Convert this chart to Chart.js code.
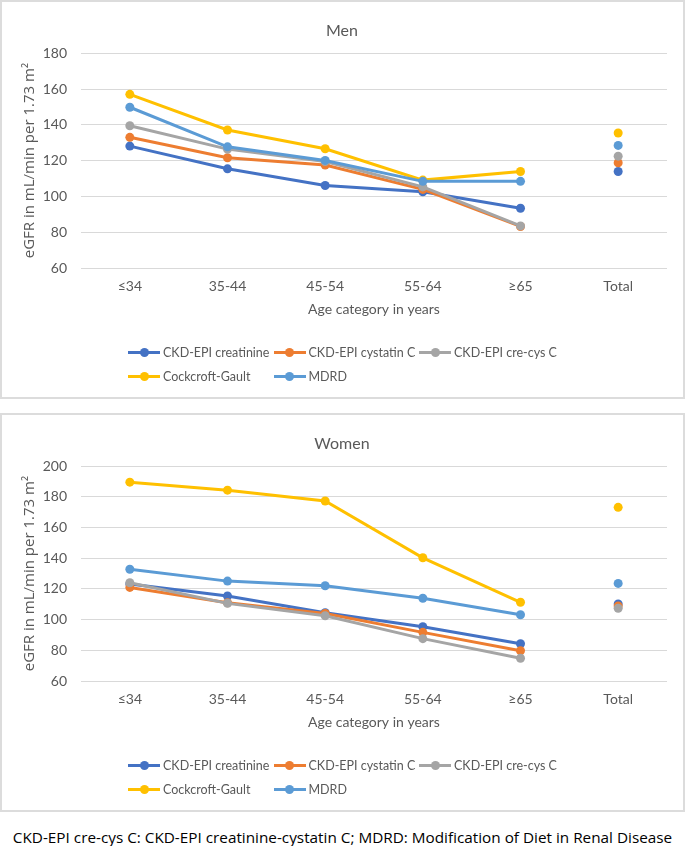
<!DOCTYPE html>
<html lang="en">

<head>
    <meta charset="UTF-8">
    <title>eGFR by age category</title>
    <script src="https://cdn.jsdelivr.net/npm/chart.js"></script>
    <style>
        body {
            margin: 0;
            background: #fff;
            font-family: Lato, sans-serif;
        }

        .panel {
            position: absolute;
            left: 0;
            width: 685px;
            height: 399px;
        }

        .panel canvas {
            position: absolute;
            left: 0;
            top: 0;
        }

        .frame {
            position: absolute;
            left: 0;
            top: 0;
            right: 0;
            bottom: 0;
            border: 2px solid #dcdcdc;
            pointer-events: none;
        }

        .legend {
            position: absolute;
            left: 128px;
            top: 340px;
            display: grid;
            grid-template-columns: 145.5px 145.5px 145.5px;
            grid-auto-rows: 24px;
            font-size: 12.5px;
            color: #595959;
        }

        .legend-item {
            display: flex;
            align-items: center;
            white-space: nowrap;
        }

        .swatch {
            position: relative;
            width: 32px;
            height: 10px;
            margin-right: 3px;
        }

        .swatch .ln {
            position: absolute;
            left: 0;
            right: 0;
            top: 3.5px;
            height: 3px;
        }

        .swatch .dot {
            position: absolute;
            left: 11.5px;
            top: 0.5px;
            width: 9px;
            height: 9px;
            border-radius: 50%;
        }

        #caption {
            position: absolute;
            left: 0;
            width: 685px;
            top: 827px;
            text-align: center;
            font-family: "Open Sans", sans-serif;
            font-size: 15.3px;
            color: #000;
        }
    </style>
</head>

<body>
    <div class="panel" style="top:0">
        <canvas id="menChart" width="685" height="399"></canvas>
        <div class="legend" id="menLegend"></div>
        <div class="frame"></div>
    </div>
    <div class="panel" style="top:413px">
        <canvas id="womenChart" width="685" height="399"></canvas>
        <div class="legend" id="womenLegend"></div>
        <div class="frame"></div>
    </div>
    <div id="caption">CKD-EPI cre-cys C: CKD-EPI creatinine-cystatin C; MDRD: Modification of Diet in Renal Disease</div>

    <script>
        // categories and series names
        const categories = ['≤34', '35-44', '45-54', '55-64', '≥65', 'Total'];
        const seriesNames = ['CKD-EPI creatinine', 'CKD-EPI cystatin C', 'CKD-EPI cre-cys C', 'Cockcroft-Gault', 'MDRD'];
        const seriesColors = ['#4472C4', '#ED7D31', '#A5A5A5', '#FFC000', '#5B9BD5'];

        // men, eGFR in mL/min per 1.73 m2
        const menCreatinine = [128.1, 115.4, 106.1, 102.6, 93.4, 113.9];
        const menCystatin = [133.0, 121.6, 117.5, 103.9, 83.2, 118.8];
        const menCreCys = [139.5, 126.4, 119.5, 105.3, 83.5, 122.5];
        const menCockcroft = [157.0, 137.1, 126.6, 109.1, 113.9, 135.4];
        const menMdrd = [149.8, 127.7, 120.1, 108.4, 108.4, 128.5];

        // women
        const womenCreatinine = [123.2, 115.4, 104.5, 95.4, 84.3, 110.2];
        const womenCystatin = [121.0, 111.0, 104.0, 91.7, 79.7, 108.9];
        const womenCreCys = [124.0, 110.6, 102.5, 87.6, 74.8, 107.4];
        const womenCockcroft = [189.6, 184.4, 177.3, 140.3, 111.3, 173.2];
        const womenMdrd = [132.8, 125.1, 122.1, 113.9, 103.2, 123.6];

        const textColor = '#595959';
        const gridColor = '#d9d9d9';

        const createChart = (canvasId, legendId, title, yMax, seriesData) => {
            const datasets = seriesData.map((values, i) => ({
                label: seriesNames[i],
                data: values,
                borderColor: seriesColors[i],
                backgroundColor: seriesColors[i],
                borderWidth: 3,
                pointRadius: 4.5,
                pointBorderWidth: 0,
                pointBackgroundColor: seriesColors[i],
                order: seriesData.length - i,
                // no line from ">=65" to "Total"
                segment: {
                    borderColor: ctx => ctx.p1DataIndex === categories.length - 1 ? 'transparent' : undefined
                }
            }));

            const chart = new Chart(document.getElementById(canvasId).getContext('2d'), {
                type: 'line',
                data: { labels: categories, datasets: datasets },
                options: {
                    responsive: false,
                    animation: false,
                    layout: { padding: { left: 17, right: 18, top: 0, bottom: 81.4 } },
                    plugins: {
                        legend: { display: false },
                        tooltip: { enabled: false },
                        title: {
                            display: true,
                            text: title,
                            color: textColor,
                            font: { family: 'Lato', size: 16, weight: 'normal' },
                            padding: { top: 21, bottom: 13 }
                        }
                    },
                    scales: {
                        x: {
                            offset: true,
                            grid: { display: false, drawTicks: false },
                            border: { display: false },
                            ticks: {
                                color: textColor,
                                font: { family: 'Lato', size: 14 },
                                padding: 10.5
                            },
                            title: {
                                display: true,
                                text: 'Age category in years',
                                color: textColor,
                                font: { family: 'Lato', size: 14 },
                                padding: { top: -5, bottom: 0 }
                            }
                        },
                        y: {
                            min: 60,
                            max: yMax,
                            grid: { color: gridColor, lineWidth: 1, drawTicks: false },
                            border: { display: false },
                            ticks: {
                                stepSize: 20,
                                color: textColor,
                                font: { family: 'Lato', size: 14 },
                                padding: 14
                            },
                            title: {
                                display: true,
                                text: 'eGFR in mL/min per 1.73 m²',
                                color: textColor,
                                font: { family: 'Open Sans', size: 15 },
                                padding: { top: 4, bottom: 0 }
                            },
                            afterFit: axis => { axis.width = 64; }
                        }
                    }
                }
            });

            // legend laid out in a grid like the original
            const legendBox = document.getElementById(legendId);
            chart.data.datasets.forEach(ds => {
                const item = document.createElement('div');
                item.className = 'legend-item';
                item.innerHTML = '<span class="swatch"><span class="ln" style="background:' + ds.borderColor +
                    '"></span><span class="dot" style="background:' + ds.borderColor + '"></span></span>' + ds.label;
                legendBox.appendChild(item);
            });
            return chart;
        };

        createChart('menChart', 'menLegend', 'Men', 180,
            [menCreatinine, menCystatin, menCreCys, menCockcroft, menMdrd]);
        createChart('womenChart', 'womenLegend', 'Women', 200,
            [womenCreatinine, womenCystatin, womenCreCys, womenCockcroft, womenMdrd]);
    </script>
</body>

</html>
